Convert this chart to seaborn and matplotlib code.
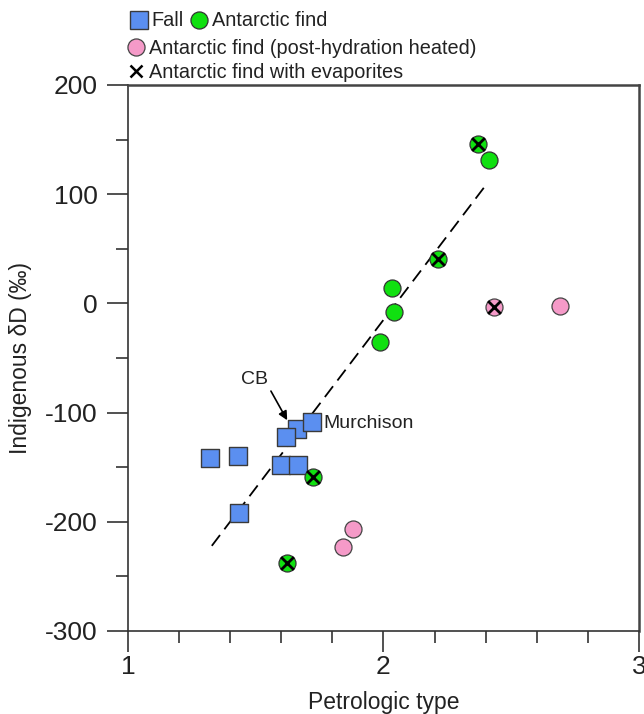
import matplotlib
matplotlib.use("Agg")
import matplotlib.pyplot as plt
from matplotlib.lines import Line2D
from matplotlib.ticker import MultipleLocator
import seaborn as sns
import pandas as pd

# ---- data ----
fall_x = [1.32, 1.43, 1.60, 1.665, 1.435, 1.66, 1.62, 1.72]
fall_y = [-142, -140, -148, -148, -192, -115, -122, -109]

green_x = [2.371, 2.212, 1.725, 1.621, 2.414, 2.034, 2.041, 1.986]
green_y = [146, 41, -159, -238, 131, 14, -8, -35]

heated_x = [2.434, 2.691, 1.882, 1.843]
heated_y = [-3, -2, -207, -223]

evap_x = [2.371, 2.212, 1.725, 1.621, 2.434]
evap_y = [146, 41, -159, -238, -3]

fit_x = [1.328, 2.406]
fit_y = [-222, 110]

cb_point = (1.623, -107)
cb_text = (1.497, -69.5)
murch_text = (1.764, -110)

xlim = (1, 3)
ylim = (-300, 200)
xticks = [1, 2, 3]
yticks = [-300, -200, -100, 0, 100, 200]

legend_labels = ["Fall", "Antarctic find",
                 "Antarctic find (post-hydration heated)",
                 "Antarctic find with evaporites"]

blue = "#5b8ff0"
green = "#10e010"
pink = "#f59ac8"

sns.set_style("ticks")
plt.rcParams["font.family"] = ["Liberation Sans", "DejaVu Sans"]
plt.rcParams["axes.unicode_minus"] = False

fig = plt.figure(figsize=(6.44, 7.14), dpi=100)
ax = fig.add_axes([128 / 644, 83 / 714, 511 / 644, 546 / 714])

df_fall = pd.DataFrame({"x": fall_x, "y": fall_y})
df_green = pd.DataFrame({"x": green_x, "y": green_y})
df_heated = pd.DataFrame({"x": heated_x, "y": heated_y})
df_evap = pd.DataFrame({"x": evap_x, "y": evap_y})
df_fit = pd.DataFrame({"x": fit_x, "y": fit_y})

sns.lineplot(data=df_fit, x="x", y="y", ax=ax, color="black", lw=1.3,
             dashes=False, zorder=1)
ax.lines[-1].set_dashes((7.5, 4))

sns.scatterplot(data=df_fall, x="x", y="y", ax=ax, marker="s", s=150,
                color=blue, edgecolor="#3a3a3a", linewidth=1.0, zorder=3)
sns.scatterplot(data=df_green, x="x", y="y", ax=ax, marker="o", s=150,
                color=green, edgecolor="#333333", linewidth=0.9, zorder=3)
sns.scatterplot(data=df_heated, x="x", y="y", ax=ax, marker="o", s=150,
                color=pink, edgecolor="#444444", linewidth=0.9, zorder=3)
sns.scatterplot(data=df_evap, x="x", y="y", ax=ax, marker="x", s=85,
                color="black", linewidth=2.0, zorder=4)

ax.annotate("CB", xy=cb_point, xytext=cb_text, ha="center", va="center",
            fontsize=14, color="#222222",
            arrowprops=dict(arrowstyle="-|>", color="black", lw=1.2,
                            shrinkA=0, shrinkB=0, mutation_scale=13,
                            relpos=(0.9, 0.35)))
ax.text(murch_text[0], murch_text[1], "Murchison", ha="left", va="center",
        fontsize=14, color="#222222")

ax.set_xlim(*xlim)
ax.set_ylim(*ylim)
ax.set_xticks(xticks)
ax.set_yticks(yticks)
ax.xaxis.set_minor_locator(MultipleLocator(0.2))
ax.yaxis.set_minor_locator(MultipleLocator(50))
ax.tick_params(axis="both", which="major", direction="out", length=15,
               width=1.2, color="#333333", labelsize=19, labelcolor="#222222")
ax.tick_params(axis="both", which="minor", direction="out", length=8.5,
               width=1.2, color="#333333")
ax.tick_params(axis="x", which="major", pad=2)
ax.tick_params(axis="y", which="major", pad=7)
ax.tick_params(top=False, right=False, which="both")

for side in ["left", "bottom"]:
    ax.spines[side].set_color("#333333")
    ax.spines[side].set_linewidth(1.2)
for side in ["top", "right"]:
    ax.spines[side].set_visible(True)
    ax.spines[side].set_color("#444444")
    ax.spines[side].set_linewidth(1.8)

ax.set_xlabel("Petrologic type", fontsize=16.5, color="#222222", labelpad=9)
ax.set_ylabel("Indigenous δD (‰)", fontsize=16.5, color="#222222", labelpad=9)

# ---- legend (custom 3-row layout) ----
h_fall = Line2D([], [], marker="s", ls="none", markersize=12.3,
                markerfacecolor=blue, markeredgecolor="#3a3a3a", markeredgewidth=1.0)
h_green = Line2D([], [], marker="o", ls="none", markersize=12.3,
                 markerfacecolor=green, markeredgecolor="#333333", markeredgewidth=0.9)
h_pink = Line2D([], [], marker="o", ls="none", markersize=12.3,
                markerfacecolor=pink, markeredgecolor="#444444", markeredgewidth=0.9)
h_x = Line2D([], [], marker="x", ls="none", markersize=9.3,
             color="black", markeredgewidth=1.8)

common = dict(frameon=False, fontsize=14.3, borderpad=0, handlelength=0.88,
              handletextpad=0.22, labelcolor="#222222", loc="center left")
fig.legend([h_fall, h_green], legend_labels[:2], ncol=2, columnspacing=0.3,
           bbox_to_anchor=(120 / 644, 1 - 21 / 714), **common)
fig.legend([h_pink], [legend_labels[2]],
           bbox_to_anchor=(117 / 644, 1 - 48 / 714), **common)
fig.legend([h_x], [legend_labels[3]],
           bbox_to_anchor=(117 / 644, 1 - 72 / 714), **common)

fig.savefig("out.png", dpi=100)
